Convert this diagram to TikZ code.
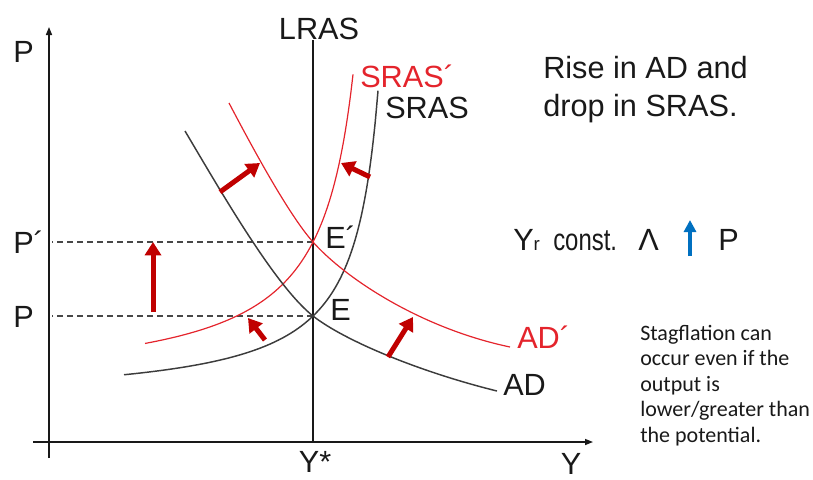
\documentclass[tikz,border=0pt]{standalone}
\usepackage{fontspec}
\setmainfont{Liberation Sans}
\newfontfamily\notefont{Carlito}
\usetikzlibrary{arrows.meta}
\definecolor{curvered}{RGB}{228,36,44}
\definecolor{arrred}{RGB}{192,0,0}
\definecolor{arrblue}{RGB}{0,112,192}
\definecolor{ink}{RGB}{25,25,25}
\begin{document}
\begin{tikzpicture}[x=0.75pt,y=-0.75pt,
  axisline/.style={line width=1.1pt, draw=ink, -{Triangle[length=6pt,width=4.5pt]}},
  plainline/.style={line width=1.1pt, draw=ink},
  curveblack/.style={line width=1.1pt, draw=ink!85},
  curvered/.style={line width=0.9pt, draw=curvered},
  guide/.style={line width=1.1pt, draw=ink!80, dash pattern=on 4.5pt off 3pt},
  shiftarrow/.style={line width=3.75pt, draw=arrred, -{Triangle[length=10pt,width=12pt]}},
  lbl/.style={font=\fontsize{23}{27.75}\selectfont, inner sep=0pt, text=ink},
  notelbl/.style={font=\notefont\fontsize{16.5}{19.1}\selectfont, inner sep=0pt, text=ink, align=left}]
\useasboundingbox (0,0) rectangle (813,479);

% axes
\coordinate (ybot) at (49,458);
\coordinate (ytop) at (49,27);
\coordinate (xleft) at (33,442);
\coordinate (xright) at (593,442);
\coordinate (lrastop) at (313,40);
\coordinate (lrasbot) at (313,442);
\draw[axisline] (ybot) -- (ytop);
\draw[axisline] (xleft) -- (xright);
\draw[plainline] (lrasbot) -- (lrastop);

% equilibria and guides
\coordinate (E) at (313,316);
\coordinate (Ep) at (313,242);
\coordinate (pp) at (52,242);
\coordinate (p0) at (52,316);
\draw[guide] (Ep) -- (pp);
\draw[guide] (E) -- (p0);

% curves
\draw[curveblack] plot[domain=124:378, samples=90, smooth] (\x, {402.7-7800/(403-\x)});
\draw[curvered] plot[domain=145:353, samples=90, smooth] (\x, {388.7-11000/(388-\x)});
\draw[curveblack] (185,131) .. controls (220,190) and (275,286) .. (313,316)
                  .. controls (345,341) and (420,372) .. (497,391);
\draw[curvered] (229,103) .. controls (250,143) and (288,214) .. (313,242)
                .. controls (345,278) and (420,328) .. (510,347);

% shift arrows
\coordinate (a1t) at (220,192); \coordinate (a1h) at (260,163);
\coordinate (a2t) at (370,177); \coordinate (a2h) at (341,163);
\coordinate (a3t) at (153,312); \coordinate (a3h) at (153,242);
\coordinate (a4t) at (265,340); \coordinate (a4h) at (248,318);
\coordinate (a5t) at (388,357); \coordinate (a5h) at (413,317);
\draw[shiftarrow] (a1t) -- (a1h);
\draw[shiftarrow] (a2t) -- (a2h);
\draw[shiftarrow] (a3t) -- (a3h);
\draw[shiftarrow] (a4t) -- (a4h);
\draw[shiftarrow] (a5t) -- (a5h);

% labels
\node[lbl, anchor=base] (lras) at (319,39) {LRAS};
\node[lbl, anchor=base west] (plab) at (13,62) {P};
\node[lbl, anchor=base west] (pplab) at (13,253) {P´};
\node[lbl, anchor=base west] (p0lab) at (13,327) {P};
\node[lbl, anchor=base west] (eplab) at (325,248) {E´};
\node[lbl, anchor=base west] (elab) at (330,320) {E};
\node[lbl, anchor=base] (ystar) at (315,472) {Y*};
\node[lbl, anchor=base] (ylab) at (571,474) {Y};
\node[lbl, anchor=base west, text=curvered] (srasp) at (360,87) {SRAS´};
\node[lbl, anchor=base west] (sras) at (385,118) {SRAS};
\node[lbl, anchor=base west, text=curvered] (adp) at (517,348) {AD´};
\node[lbl, anchor=base west] (ad) at (503,395) {AD};
\node[lbl, anchor=base west] (title1) at (543,78) {Rise in AD and};
\node[lbl, anchor=base west] (title2) at (543,116) {drop in SRAS.};

% Yr const row
\node[lbl, anchor=base west] (yr) at (513,250) {Y{\fontsize{14}{14}\selectfont r}};
\node[lbl, anchor=base west] (const) at (553,250) {\scalebox{0.78}[1]{const.}};
\node[lbl, anchor=base west] (lam) at (638,250) {Λ};
\node[lbl, anchor=base west] (pr) at (718,250) {P};
\coordinate (bt) at (690,256);
\coordinate (bh) at (690,220);
\draw[line width=3pt, draw=arrblue, -{Triangle[length=9pt,width=9pt]}] (bt) -- (bh);

% note
\node[notelbl, anchor=base west] (note1) at (640,340) {Stagflation can};
\node[notelbl, anchor=base west] (note2) at (640,365) {occur even if the};
\node[notelbl, anchor=base west] (note3) at (640,391) {output is};
\node[notelbl, anchor=base west] (note4) at (640,416) {lower/greater than};
\node[notelbl, anchor=base west] (note5) at (640,442) {the potential.};
\end{tikzpicture}
\end{document}
